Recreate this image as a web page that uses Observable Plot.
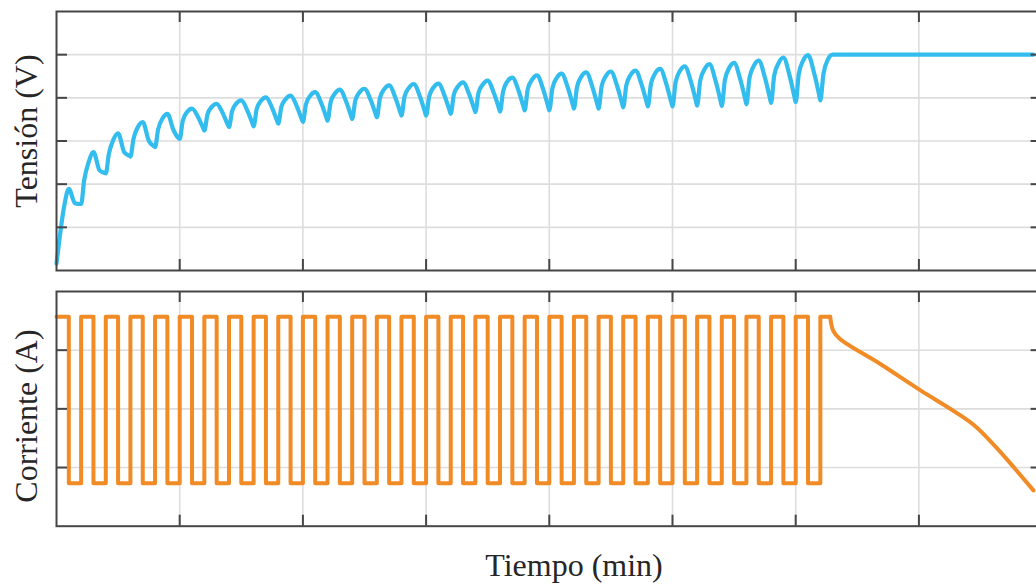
<!DOCTYPE html>
<html><head><meta charset="utf-8">
<script src="https://cdn.jsdelivr.net/npm/d3@7"></script>
<script src="https://cdn.jsdelivr.net/npm/@observablehq/plot@0.6"></script>
<style>
html,body{margin:0;padding:0;overflow:hidden;background:#fff;width:1036px;height:588px}
#root{position:relative;width:1036px;height:588px;overflow:hidden}
#root svg{position:absolute;left:0;max-width:none !important}
</style></head><body><div id="root"></div>
<script>
// ---- Datos ----
// Tiempo de inicio de cada ciclo de pulso (min, unidades de rejilla)
const tiempoCiclo = [0,0.2,0.4,0.6,0.8,1.0,1.2,1.4,1.6,1.8,2.0,2.2,2.4,2.6,2.8,3.0,3.2,3.4,3.6,3.8,4.0,4.2,4.4,4.6,4.8,5.0,5.2,5.4,5.6,5.8,6.0];
// Posición de las muestras dentro de cada ciclo: valle, subida rápida, subida, pico, caída, caída final
const desfaseCiclo = [0, 0.025, 0.06, 0.10, 0.15, 0.19];
const tensionValle   = [0.16,1.54,2.25,2.64,2.86,3.05,3.24,3.32,3.34,3.40,3.44,3.47,3.51,3.55,3.59,3.59,3.63,3.67,3.68,3.71,3.71,3.75,3.75,3.78,3.80,3.80,3.82,3.81,3.85,3.88,3.90];
const tensionSubida1 = [0.75,2.10,2.70,3.05,3.27,3.47,3.61,3.69,3.74,3.79,3.85,3.90,3.93,3.99,4.03,4.03,4.07,4.11,4.15,4.20,4.22,4.25,4.27,4.29,4.32,4.36,4.40,4.41,4.46,4.51,4.55];
const tensionSubida2 = [1.45,2.50,3.02,3.32,3.52,3.67,3.79,3.87,3.93,3.97,4.05,4.10,4.13,4.20,4.23,4.24,4.27,4.31,4.38,4.42,4.46,4.49,4.51,4.53,4.57,4.62,4.66,4.69,4.74,4.80,4.86];
const tensionPico    = [1.89,2.74,3.18,3.44,3.63,3.75,3.86,3.94,4.01,4.05,4.13,4.19,4.21,4.29,4.32,4.33,4.36,4.40,4.47,4.52,4.56,4.59,4.61,4.63,4.67,4.73,4.78,4.81,4.86,4.93,4.99];
const tensionCaida1  = [1.56,2.32,2.74,3.00,3.25,3.55,3.64,3.70,3.77,3.81,3.87,3.92,3.95,4.01,4.03,4.05,4.08,4.11,4.17,4.20,4.24,4.25,4.28,4.30,4.32,4.37,4.39,4.43,4.47,4.52,4.57];
const tensionCaida2  = [1.54,2.26,2.66,2.88,3.07,3.30,3.38,3.41,3.47,3.51,3.55,3.59,3.63,3.67,3.68,3.71,3.75,3.77,3.80,3.81,3.85,3.85,3.88,3.90,3.90,3.93,3.93,3.97,4.00,4.02,4.07];
// Tramo final a tensión constante
const tiempoCV  = [6.2, 6.225, 6.26, 6.30, 7.93];
const tensionCV = [3.94, 4.55, 4.88, 5.00, 5.00];

// Corriente: instantes de conmutación (alterna alto / bajo)
const tiempoConmutacion = [0,0.1,0.2,0.3,0.4,0.5,0.6,0.7,0.8,0.9,1.0,1.1,1.2,1.3,1.4,1.5,1.6,1.7,1.8,1.9,2.0,2.1,2.2,2.3,2.4,2.5,2.6,2.7,2.8,2.9,3.0,3.1,3.2,3.3,3.4,3.5,3.6,3.7,3.8,3.9,4.0,4.1,4.2,4.3,4.4,4.5,4.6,4.7,4.8,4.9,5.0,5.1,5.2,5.3,5.4,5.5,5.6,5.7,5.8,5.9,6.0,6.1,6.2,6.28];
const corrienteNiveles = [3.57, 0.73]; // alto, bajo
// Descenso final de la corriente
const tiempoDescenso    = [6.28,6.305,6.36,6.69,7.01,7.30,7.46,7.62,7.78,7.93];
const corrienteDescenso = [3.57,3.33,3.19,2.76,2.32,1.94,1.70,1.36,0.98,0.61];

// Ticks / rejilla
const ticksTiempo = [1,2,3,4,5,6,7];
const ticksTension = [1,2,3,4,5];
const ticksCorriente = [1,2,3];

// ---- Tablas ----
const puntosTension = [];
tiempoCiclo.forEach((t0, k) => {
  const vals = [tensionValle[k], tensionSubida1[k], tensionSubida2[k], tensionPico[k], tensionCaida1[k], tensionCaida2[k]];
  desfaseCiclo.forEach((d, j) => puntosTension.push({t: t0 + d, v: vals[j]}));
});
tiempoCV.forEach((t, i) => puntosTension.push({t, v: tensionCV[i]}));

const puntosPulsos = tiempoConmutacion.map((t, i) => ({
  t, i: i === tiempoConmutacion.length - 1 ? corrienteNiveles[0] : corrienteNiveles[i % 2]
}));
const puntosDescenso = tiempoDescenso.map((t, i) => ({t, i: corrienteDescenso[i]}));

// ---- Estilo ----
const W = 1046, mL = 56, mR = 4.4;
const plotW = W - mL - mR;
const colFrame = "#464646", colGrid = "#dddddd";
const azul = "#33BDEE", naranja = "#F18B26";
const TL = 11;

function panel({height, mT, mB, yDomain, yTicks, marks}) {
  const plotH = height - mT - mB;
  return Plot.plot({
    width: W, height, marginTop: mT, marginBottom: mB, marginLeft: mL, marginRight: mR,
    x: {domain: [0, 8], axis: null},
    y: {domain: yDomain, axis: null},
    style: {background: "transparent", overflow: "visible", maxWidth: "none"},
    marks: [
      Plot.ruleX(ticksTiempo, {x: d => d, stroke: colGrid, strokeWidth: 1.6}),
      Plot.ruleY(yTicks, {y: d => d, stroke: colGrid, strokeWidth: 1.6}),
      ...marks,
      Plot.frame({stroke: colFrame, strokeWidth: 2}),
      Plot.tickX(ticksTiempo, {x: d => d, stroke: colFrame, strokeWidth: 2, insetBottom: plotH - TL}),
      Plot.tickX(ticksTiempo, {x: d => d, stroke: colFrame, strokeWidth: 2, insetTop: plotH - TL}),
      Plot.tickY(yTicks, {y: d => d, stroke: colFrame, strokeWidth: 2, insetRight: plotW - TL}),
      Plot.tickY(yTicks, {y: d => d, stroke: colFrame, strokeWidth: 2, insetLeft: plotW - TL})
    ]
  });
}

const root = document.getElementById("root");

const panelTension = panel({
  height: 280, mT: 11, mB: 10, yDomain: [0, 6], yTicks: ticksTension,
  marks: [
    Plot.line(puntosTension, {x: "t", y: "v", stroke: azul, strokeWidth: 4.2, curve: "monotone-x",
      strokeLinejoin: "round", strokeLinecap: "round"})
  ]
});
panelTension.style.top = "0px";
root.appendChild(panelTension);

const panelCorriente = panel({
  height: 250, mT: 11, mB: 4.3, yDomain: [0, 4], yTicks: ticksCorriente,
  marks: [
    Plot.line(puntosPulsos, {x: "t", y: "i", stroke: naranja, strokeWidth: 4, curve: "step-after",
      strokeLinejoin: "round", strokeLinecap: "round"}),
    Plot.line(puntosDescenso, {x: "t", y: "i", stroke: naranja, strokeWidth: 4, curve: "catmull-rom",
      strokeLinejoin: "round", strokeLinecap: "round"})
  ]
});
panelCorriente.style.top = "280px";
root.appendChild(panelCorriente);

// Etiquetas
const svgLab = d3.select(root).append("svg")
  .attr("width", 1036).attr("height", 588).style("top", "0px").style("pointer-events", "none");
const font = "'Liberation Serif', 'Times New Roman', serif";
const lab = (x, y, txt, rot) => svgLab.append("text")
  .attr("transform", `translate(${x},${y})` + (rot ? " rotate(-90)" : ""))
  .attr("text-anchor", "middle")
  .attr("font-family", font).attr("font-size", 32).attr("fill", "#262626")
  .text(txt);
lab(37, 131, "Tensión (V)", true);
lab(37, 416, "Corriente (A)", true);
lab(574, 576, "Tiempo (min)", false);
</script></body></html>
